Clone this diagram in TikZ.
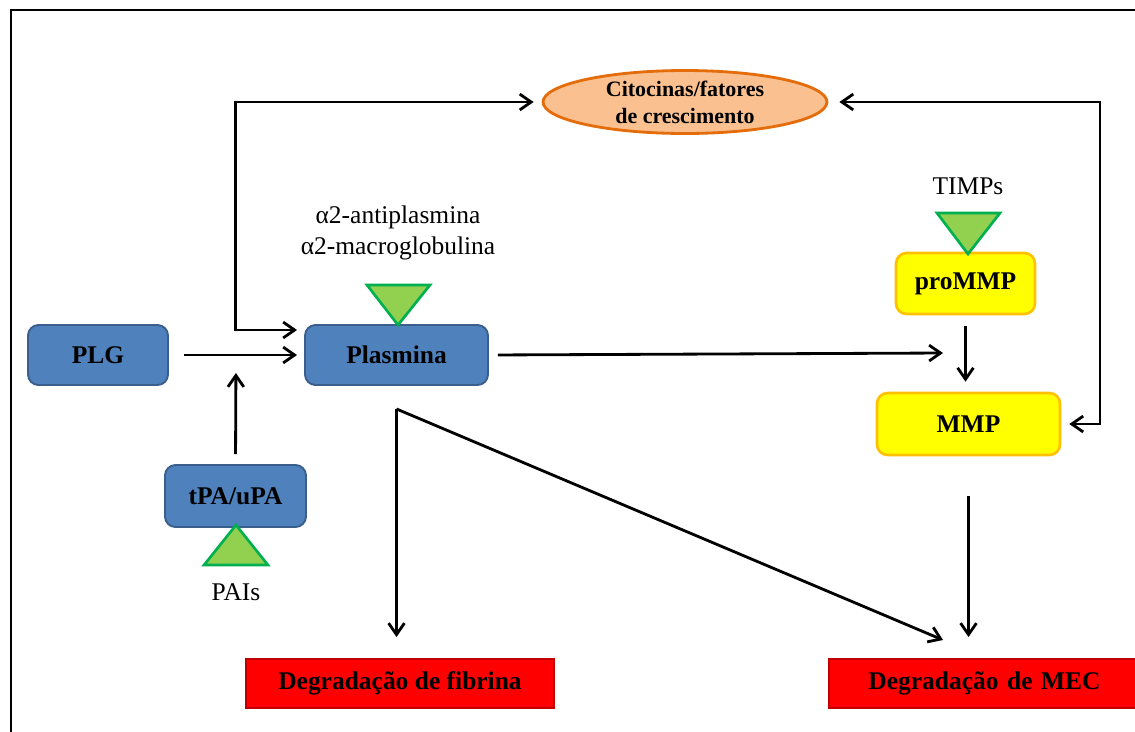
\documentclass[tikz,border=0pt]{standalone}
\usepackage{fontspec}
\setmainfont{Liberation Serif}
\usetikzlibrary{arrows.meta,shapes.geometric}

\definecolor{plasblue}{HTML}{4F81BD}
\definecolor{plasedge}{HTML}{3A5F8C}
\definecolor{mmpyellow}{HTML}{FFFF00}
\definecolor{mmpedge}{HTML}{FFC000}
\definecolor{degred}{HTML}{FF0000}
\definecolor{degedge}{HTML}{C00000}
\definecolor{cytofill}{HTML}{FAC090}
\definecolor{cytoedge}{HTML}{E46C0A}
\definecolor{inhfill}{HTML}{92D050}
\definecolor{inhedge}{HTML}{00B050}

\begin{document}
\begin{tikzpicture}[x=0.02cm, y=-0.02cm,
    bluebox/.style={draw=plasedge, fill=plasblue, line width=1.1pt, rounded corners=6pt,
      inner sep=0pt, font=\fontsize{14.5}{17}\selectfont\bfseries},
    yellowbox/.style={draw=mmpedge, fill=mmpyellow, line width=1.5pt, rounded corners=6pt,
      inner sep=0pt, font=\fontsize{14.5}{17}\selectfont\bfseries},
    redbox/.style={draw=degedge, fill=degred, line width=1.1pt, inner sep=0pt,
      minimum height=0.98cm, font=\fontsize{14.5}{17}\selectfont\bfseries},
    inhibitor/.style={draw=inhedge, fill=inhfill, line width=1.5pt, line join=miter},
    label/.style={font=\fontsize{14.5}{18}\selectfont, align=center},
    flow/.style={line width=1.6pt, -{Straight Barb[length=6.5pt, width=9pt, line width=1.6pt]}},
    bothflow/.style={line width=1.6pt, {Straight Barb[length=6.5pt, width=9pt, line width=1.6pt]}-{Straight Barb[length=6.5pt, width=9pt, line width=1.6pt]}}]

    \useasboundingbox (0,0) rectangle (1135,731);
    \clip (0,0) rectangle (1135,731);

    % Outer frame (cut at right and bottom)
    \draw[line width=1.1pt] (11,740) -- (11,10) -- (1140,10);

    % Cytokines / growth factors
    \node[ellipse, draw=cytoedge, fill=cytofill, line width=1.6pt, inner sep=0pt,
      minimum width=5.68cm, minimum height=1.26cm, align=center,
      font=\fontsize{12.5}{15.5}\selectfont\bfseries] (cyto) at (685,102) {Citocinas/fatores\\de crescimento};

    % Plasminogen system
    \node[bluebox, minimum width=2.8cm, minimum height=1.2cm] (plg) at (98,355) {PLG};
    \node[bluebox, minimum width=3.66cm, minimum height=1.2cm] (plasmina) at (396.5,355) {Plasmina};
    \node[bluebox, minimum width=2.82cm, minimum height=1.24cm] (tpa) at (235.5,496) {tPA/uPA};

    % Metalloproteinases
    \node[yellowbox, minimum width=2.78cm, minimum height=1.22cm] (prommp) at (965.5,283.5) {proMMP};
    \node[yellowbox, minimum width=3.66cm, minimum height=1.24cm] (mmp) at (968.5,424) {MMP};

    % Degradation outputs
    \node[redbox, minimum width=6.16cm] (fibrina) at (400,683.5) {Degradação de fibrina};
    \node[redbox, minimum width=6.22cm, text width=5.6cm, align=center] (mec) at (984.5,683.5) {Degradação de MEC};

    % Inhibitors
    \draw[inhibitor] (367,285) -- (430,285) -- (398,325) -- cycle;
    \draw[inhibitor] (937,213) -- (1000,213) -- (968,254) -- cycle;
    \draw[inhibitor] (204,565) -- (268,565) -- (236,525) -- cycle;

    \node[label] (antipl) at (398,233) {α2-antiplasmina\\α2-macroglobulina};
    \node[label] (timps) at (968,186) {TIMPs};
    \node[label] (pais) at (236,592) {PAIs};

    % Free ends of connectors
    \coordinate (join) at (236,355);
    \coordinate (rloop) at (1100,424);
    \coordinate (activ) at (943,353);
    \coordinate (mecin) at (943,640);

    % Activation arrows
    \draw[flow, shorten <=0.3cm, shorten >=0.14cm] (plg.east) -- (plasmina.west);
    \draw[flow, shorten <=0.2cm, shorten >=0.36cm] (tpa.north) -- (join);
    \draw[bothflow, shorten <=0.14cm, shorten >=0.16cm]
      ([yshift=0.5cm]plasmina.west) -| (tpa.north |- cyto.west) -- (cyto.west);
    \draw[bothflow, shorten <=0.22cm, shorten >=0.16cm] (cyto.east) -| (rloop) -- (mmp.east);
    \draw[flow, shorten <=0.18cm] (plasmina.east) -- (activ);
    \draw[flow, shorten <=0.22cm, shorten >=0.2cm] (prommp.south) -- (prommp.south |- mmp.north);

    % Degradation arrows
    \draw[flow, shorten <=0.46cm, shorten >=0.42cm] (plasmina.south) -- (plasmina.south |- fibrina.north);
    \draw[flow] ([yshift=-0.46cm]plasmina.south) -- (mecin);
    \draw[flow, shorten <=0.8cm, shorten >=0.42cm] (mmp.south) -- (mmp.south |- mec.north);
  \end{tikzpicture}
\end{document}
